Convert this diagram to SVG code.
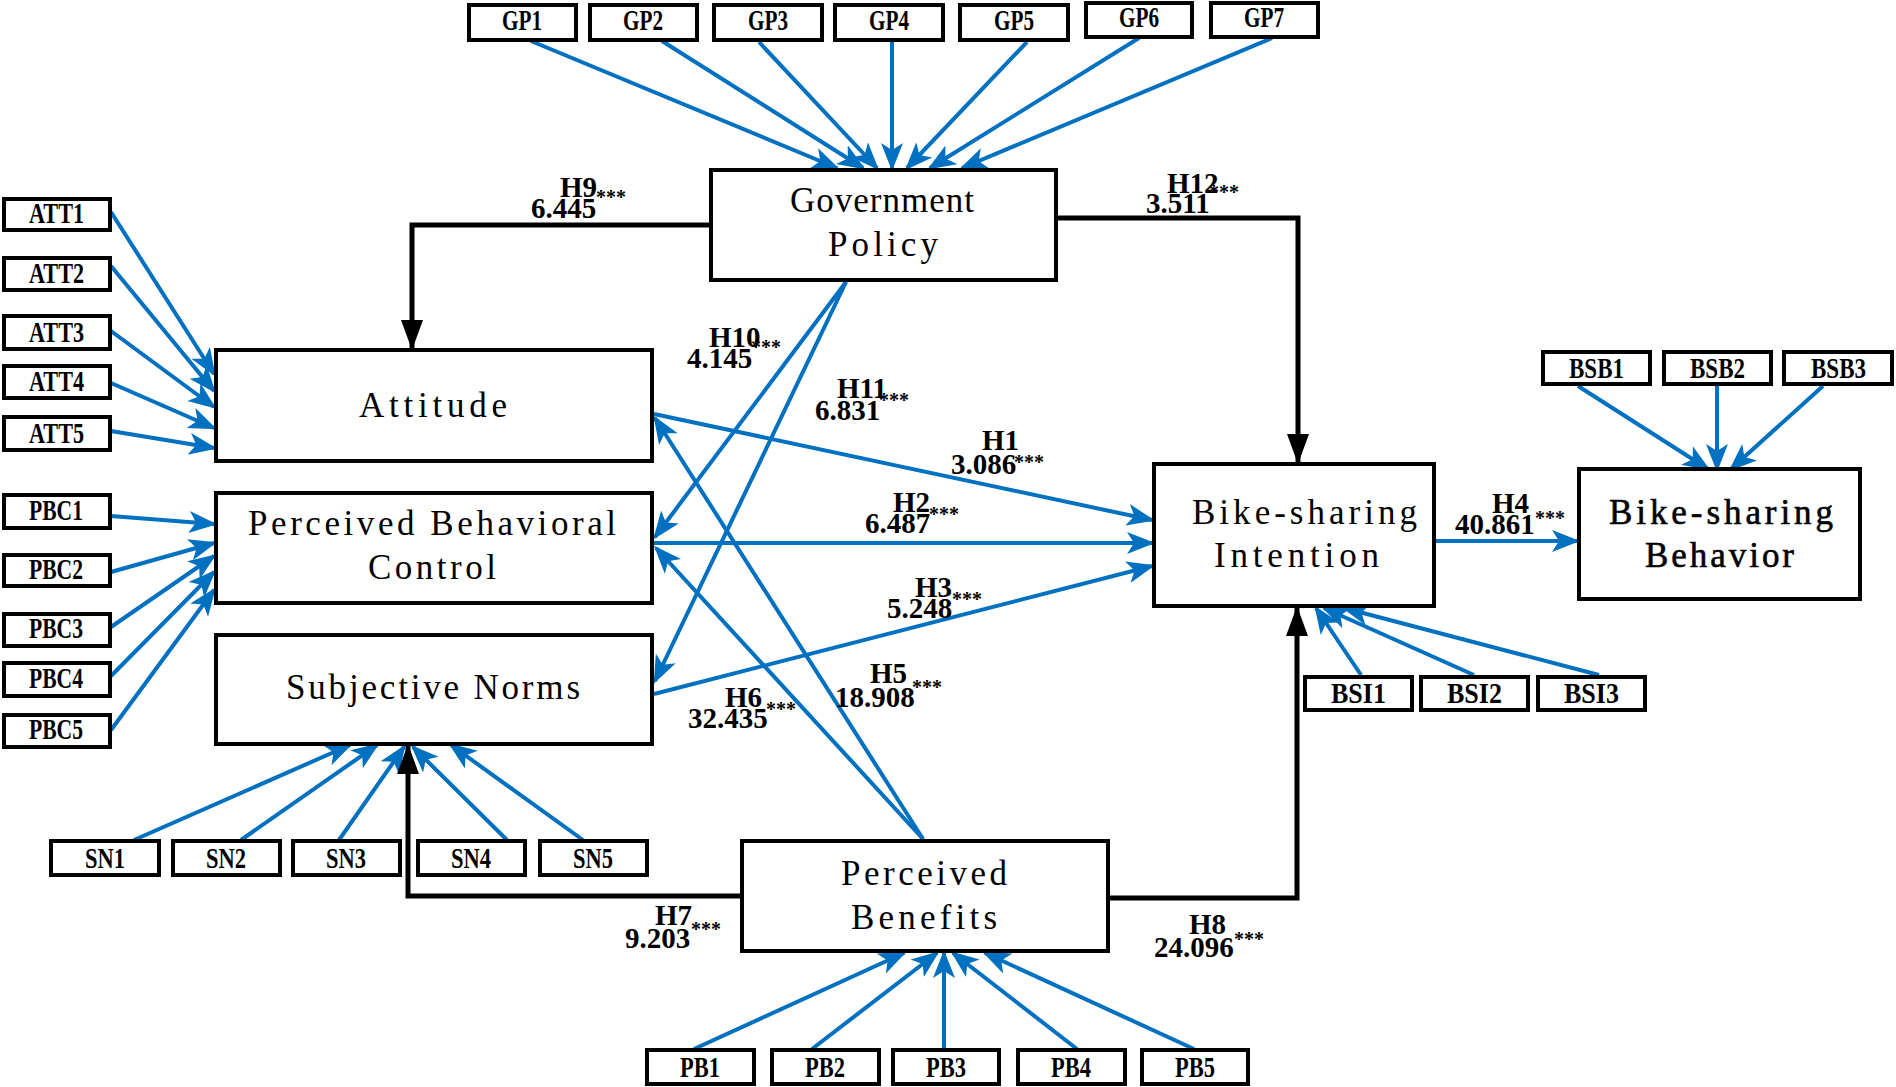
<svg xmlns="http://www.w3.org/2000/svg" width="1896" height="1087" viewBox="0 0 1896 1087">
<style>
.box{fill:#fff;stroke:#000;stroke-width:4}
.sb{fill:#fff;stroke:#000;stroke-width:4}
.nd{font-family:"Liberation Serif",serif;font-size:35px;fill:#000}
.sl{font-family:"Liberation Serif",serif;font-weight:bold;font-size:29px;fill:#000}
.lb{font-family:"Liberation Serif",serif;font-weight:bold;font-size:29px;fill:#000}
.st{font-family:"Liberation Serif",serif;font-weight:bold;font-size:20px;fill:#000}
.bl{fill:none;stroke:#0070C0;stroke-width:4;marker-end:url(#ab)}
.bk{fill:none;stroke:#000;stroke-width:5;marker-end:url(#ak)}
</style>
<defs>
<marker id="ab" markerUnits="userSpaceOnUse" viewBox="0 -12 28 24" markerWidth="28" markerHeight="24" refX="25" refY="0" orient="auto"><path d="M0,-11 L28,0 L0,11 L7,0 z" fill="#0070C0"/></marker>
<marker id="ak" markerUnits="userSpaceOnUse" viewBox="0 -11 30 22" markerWidth="30" markerHeight="22" refX="28" refY="0" orient="auto"><path d="M0,-11 L30,0 L0,11 z" fill="#000"/></marker>
</defs>
<rect width="1896" height="1087" fill="#fff"/>

<g id="connectors">
<path class="bl" d="M531,41 L837,168"/>
<path class="bl" d="M662,41 L863,168"/>
<path class="bl" d="M759,42 L877,168"/>
<path class="bl" d="M892,42 L892,168"/>
<path class="bl" d="M1027,42 L907,168"/>
<path class="bl" d="M1139,38 L930,168"/>
<path class="bl" d="M1272,38 L962,168"/>
<path class="bl" d="M111,212 L214,374"/>
<path class="bl" d="M111,266 L214,391"/>
<path class="bl" d="M111,331 L214,407"/>
<path class="bl" d="M111,383 L214,428"/>
<path class="bl" d="M111,431 L214,448"/>
<path class="bl" d="M111,516 L214,524"/>
<path class="bl" d="M111,572 L214,543"/>
<path class="bl" d="M111,627 L214,556"/>
<path class="bl" d="M111,676 L214,572"/>
<path class="bl" d="M111,730 L214,590"/>
<path class="bl" d="M134,840 L350,745"/>
<path class="bl" d="M241,840 L377,745"/>
<path class="bl" d="M339,840 L404,747"/>
<path class="bl" d="M507,840 L413,747"/>
<path class="bl" d="M583,840 L451,745"/>
<path class="bl" d="M694,1049 L904,953"/>
<path class="bl" d="M812,1049 L937,953"/>
<path class="bl" d="M944,1049 L944,953"/>
<path class="bl" d="M1077,1049 L953,953"/>
<path class="bl" d="M1194,1049 L985,953"/>
<path class="bl" d="M1578,386 L1708,469"/>
<path class="bl" d="M1717,386 L1717,469"/>
<path class="bl" d="M1823,386 L1731,469"/>
<path class="bl" d="M1361,675 L1316,608"/>
<path class="bl" d="M1474,675 L1324,608"/>
<path class="bl" d="M1599,675 L1344,608"/>
<path class="bl" d="M654,414 L1152,520"/>
<path class="bl" d="M654,543 L1152,543"/>
<path class="bl" d="M654,694 L1152,566"/>
<path class="bl" d="M1436,541 L1577,541"/>
<path class="bl" d="M846,282 L655,537"/>
<path class="bl" d="M846,282 L655,681"/>
<path class="bl" d="M923,839 L655,418"/>
<path class="bl" d="M923,839 L656,548"/>
<path class="bk" d="M709,225 H412 V348"/>
<path class="bk" d="M1058,218 H1298 V462"/>
<path class="bk" d="M740,896 H408 V746"/>
<path class="bk" d="M1110,898 H1297 V608"/>
</g>

<g id="labels">
<text class="lb" x="560" y="197">H9</text><text class="lb" x="531" y="218">6.445</text><text class="st" x="596" y="204">***</text>
<text class="lb" x="1167" y="193">H12</text><text class="lb" x="1146" y="213">3.511</text><text class="st" x="1209" y="199">***</text>
<text class="lb" x="709" y="347">H10</text><text class="lb" x="687" y="368">4.145</text><text class="st" x="751" y="354">***</text>
<text class="lb" x="837" y="398">H11</text><text class="lb" x="815" y="420">6.831</text><text class="st" x="879" y="407">***</text>
<text class="lb" x="982" y="450">H1</text><text class="lb" x="951" y="474">3.086</text><text class="st" x="1014" y="469">***</text>
<text class="lb" x="893" y="512">H2</text><text class="lb" x="865" y="533">6.487</text><text class="st" x="929" y="521">***</text>
<text class="lb" x="915" y="597">H3</text><text class="lb" x="887" y="618">5.248</text><text class="st" x="952" y="606">***</text>
<text class="lb" x="1492" y="513">H4</text><text class="lb" x="1455" y="534">40.861</text><text class="st" x="1535" y="525">***</text>
<text class="lb" x="870" y="683">H5</text><text class="lb" x="835" y="707">18.908</text><text class="st" x="912" y="694">***</text>
<text class="lb" x="725" y="707">H6</text><text class="lb" x="688" y="728">32.435</text><text class="st" x="766" y="716">***</text>
<text class="lb" x="655" y="925">H7</text><text class="lb" x="625" y="948">9.203</text><text class="st" x="691" y="936">***</text>
<text class="lb" x="1189" y="934">H8</text><text class="lb" x="1154" y="957">24.096</text><text class="st" x="1234" y="946">***</text>
</g>

<g id="GP"><rect class="box" x="711" y="170" width="345" height="110"/>
<text class="nd" x="790" y="212" textLength="184" lengthAdjust="spacing">Government</text>
<text class="nd" x="828" y="256" textLength="110" lengthAdjust="spacing">Policy</text></g>
<g id="ATT"><rect class="box" x="216" y="350" width="436" height="111"/>
<text class="nd" x="359" y="417" textLength="148" lengthAdjust="spacing">Attitude</text></g>
<g id="PBC"><rect class="box" x="216" y="493" width="436" height="110"/>
<text class="nd" x="248" y="535" textLength="368" lengthAdjust="spacing">Perceived Behavioral</text>
<text class="nd" x="368" y="579" textLength="128" lengthAdjust="spacing">Control</text></g>
<g id="SN"><rect class="box" x="216" y="635" width="436" height="109"/>
<text class="nd" x="286" y="699" textLength="294" lengthAdjust="spacing">Subjective Norms</text></g>
<g id="PB"><rect class="box" x="742" y="841" width="366" height="110"/>
<text class="nd" x="841" y="885" textLength="166" lengthAdjust="spacing">Perceived</text>
<text class="nd" x="851" y="929" textLength="146" lengthAdjust="spacing">Benefits</text></g>
<g id="BSI"><rect class="box" x="1154" y="464" width="280" height="142"/>
<text class="nd" x="1192" y="524" textLength="225" lengthAdjust="spacing">Bike-sharing</text>
<text class="nd" x="1214" y="567" textLength="165" lengthAdjust="spacing">Intention</text></g>
<g id="BSB"><rect class="box" x="1579" y="469" width="281" height="130"/>
<text class="nd" x="1609" y="524" textLength="224" lengthAdjust="spacing" stroke="#000" stroke-width="0.6">Bike-sharing</text>
<text class="nd" x="1645" y="567" textLength="149" lengthAdjust="spacing" stroke="#000" stroke-width="0.6">Behavior</text></g>

<g id="GP1"><rect class="sb" x="469" y="5" width="107" height="35"/><text class="sl" x="502" y="30" textLength="40" lengthAdjust="spacingAndGlyphs">GP1</text></g>
<g id="GP2"><rect class="sb" x="590" y="5" width="107" height="35"/><text class="sl" x="623" y="30" textLength="40" lengthAdjust="spacingAndGlyphs">GP2</text></g>
<g id="GP3"><rect class="sb" x="714" y="5" width="108" height="35"/><text class="sl" x="748" y="30" textLength="40" lengthAdjust="spacingAndGlyphs">GP3</text></g>
<g id="GP4"><rect class="sb" x="835" y="5" width="108" height="35"/><text class="sl" x="869" y="30" textLength="40" lengthAdjust="spacingAndGlyphs">GP4</text></g>
<g id="GP5"><rect class="sb" x="960" y="5" width="108" height="35"/><text class="sl" x="994" y="30" textLength="40" lengthAdjust="spacingAndGlyphs">GP5</text></g>
<g id="GP6"><rect class="sb" x="1086" y="3" width="106" height="34"/><text class="sl" x="1119" y="27" textLength="40" lengthAdjust="spacingAndGlyphs">GP6</text></g>
<g id="GP7"><rect class="sb" x="1211" y="3" width="107" height="34"/><text class="sl" x="1244" y="27" textLength="40" lengthAdjust="spacingAndGlyphs">GP7</text></g>

<g id="ATT1"><rect class="sb" x="4" y="199" width="106" height="31"/><text class="sl" x="29" y="223" textLength="55" lengthAdjust="spacingAndGlyphs">ATT1</text></g>
<g id="ATT2"><rect class="sb" x="4" y="258" width="106" height="32"/><text class="sl" x="29" y="283" textLength="55" lengthAdjust="spacingAndGlyphs">ATT2</text></g>
<g id="ATT3"><rect class="sb" x="4" y="316" width="106" height="33"/><text class="sl" x="29" y="342" textLength="55" lengthAdjust="spacingAndGlyphs">ATT3</text></g>
<g id="ATT4"><rect class="sb" x="4" y="366" width="106" height="32"/><text class="sl" x="29" y="391" textLength="55" lengthAdjust="spacingAndGlyphs">ATT4</text></g>
<g id="ATT5"><rect class="sb" x="4" y="417" width="106" height="33"/><text class="sl" x="29" y="443" textLength="55" lengthAdjust="spacingAndGlyphs">ATT5</text></g>

<g id="PBC1"><rect class="sb" x="4" y="495" width="106" height="33"/><text class="sl" x="29" y="520" textLength="54" lengthAdjust="spacingAndGlyphs">PBC1</text></g>
<g id="PBC2"><rect class="sb" x="4" y="555" width="106" height="31"/><text class="sl" x="29" y="579" textLength="54" lengthAdjust="spacingAndGlyphs">PBC2</text></g>
<g id="PBC3"><rect class="sb" x="4" y="614" width="106" height="32"/><text class="sl" x="29" y="638" textLength="54" lengthAdjust="spacingAndGlyphs">PBC3</text></g>
<g id="PBC4"><rect class="sb" x="4" y="663" width="106" height="33"/><text class="sl" x="29" y="688" textLength="54" lengthAdjust="spacingAndGlyphs">PBC4</text></g>
<g id="PBC5"><rect class="sb" x="4" y="715" width="106" height="32"/><text class="sl" x="29" y="739" textLength="54" lengthAdjust="spacingAndGlyphs">PBC5</text></g>

<g id="SN1"><rect class="sb" x="51" y="841" width="108" height="34"/><text class="sl" x="85" y="868" textLength="40" lengthAdjust="spacingAndGlyphs">SN1</text></g>
<g id="SN2"><rect class="sb" x="173" y="841" width="107" height="34"/><text class="sl" x="206" y="868" textLength="40" lengthAdjust="spacingAndGlyphs">SN2</text></g>
<g id="SN3"><rect class="sb" x="293" y="841" width="107" height="34"/><text class="sl" x="326" y="868" textLength="40" lengthAdjust="spacingAndGlyphs">SN3</text></g>
<g id="SN4"><rect class="sb" x="418" y="841" width="107" height="34"/><text class="sl" x="451" y="868" textLength="40" lengthAdjust="spacingAndGlyphs">SN4</text></g>
<g id="SN5"><rect class="sb" x="540" y="841" width="107" height="34"/><text class="sl" x="573" y="868" textLength="40" lengthAdjust="spacingAndGlyphs">SN5</text></g>

<g id="PB1"><rect class="sb" x="647" y="1050" width="107" height="34"/><text class="sl" x="680" y="1077" textLength="40" lengthAdjust="spacingAndGlyphs">PB1</text></g>
<g id="PB2"><rect class="sb" x="772" y="1050" width="107" height="34"/><text class="sl" x="805" y="1077" textLength="40" lengthAdjust="spacingAndGlyphs">PB2</text></g>
<g id="PB3"><rect class="sb" x="893" y="1050" width="106" height="34"/><text class="sl" x="926" y="1077" textLength="40" lengthAdjust="spacingAndGlyphs">PB3</text></g>
<g id="PB4"><rect class="sb" x="1018" y="1050" width="107" height="34"/><text class="sl" x="1051" y="1077" textLength="40" lengthAdjust="spacingAndGlyphs">PB4</text></g>
<g id="PB5"><rect class="sb" x="1142" y="1050" width="106" height="34"/><text class="sl" x="1175" y="1077" textLength="40" lengthAdjust="spacingAndGlyphs">PB5</text></g>

<g id="BSB1"><rect class="sb" x="1543" y="352" width="107" height="32"/><text class="sl" x="1569" y="378" textLength="55" lengthAdjust="spacingAndGlyphs">BSB1</text></g>
<g id="BSB2"><rect class="sb" x="1664" y="352" width="107" height="32"/><text class="sl" x="1690" y="378" textLength="55" lengthAdjust="spacingAndGlyphs">BSB2</text></g>
<g id="BSB3"><rect class="sb" x="1784" y="352" width="108" height="32"/><text class="sl" x="1811" y="378" textLength="55" lengthAdjust="spacingAndGlyphs">BSB3</text></g>

<g id="BSI1"><rect class="sb" x="1305" y="677" width="107" height="33"/><text class="sl" x="1331" y="703" textLength="55" lengthAdjust="spacingAndGlyphs">BSI1</text></g>
<g id="BSI2"><rect class="sb" x="1421" y="677" width="107" height="33"/><text class="sl" x="1447" y="703" textLength="55" lengthAdjust="spacingAndGlyphs">BSI2</text></g>
<g id="BSI3"><rect class="sb" x="1538" y="677" width="107" height="33"/><text class="sl" x="1564" y="703" textLength="55" lengthAdjust="spacingAndGlyphs">BSI3</text></g>
</svg>
